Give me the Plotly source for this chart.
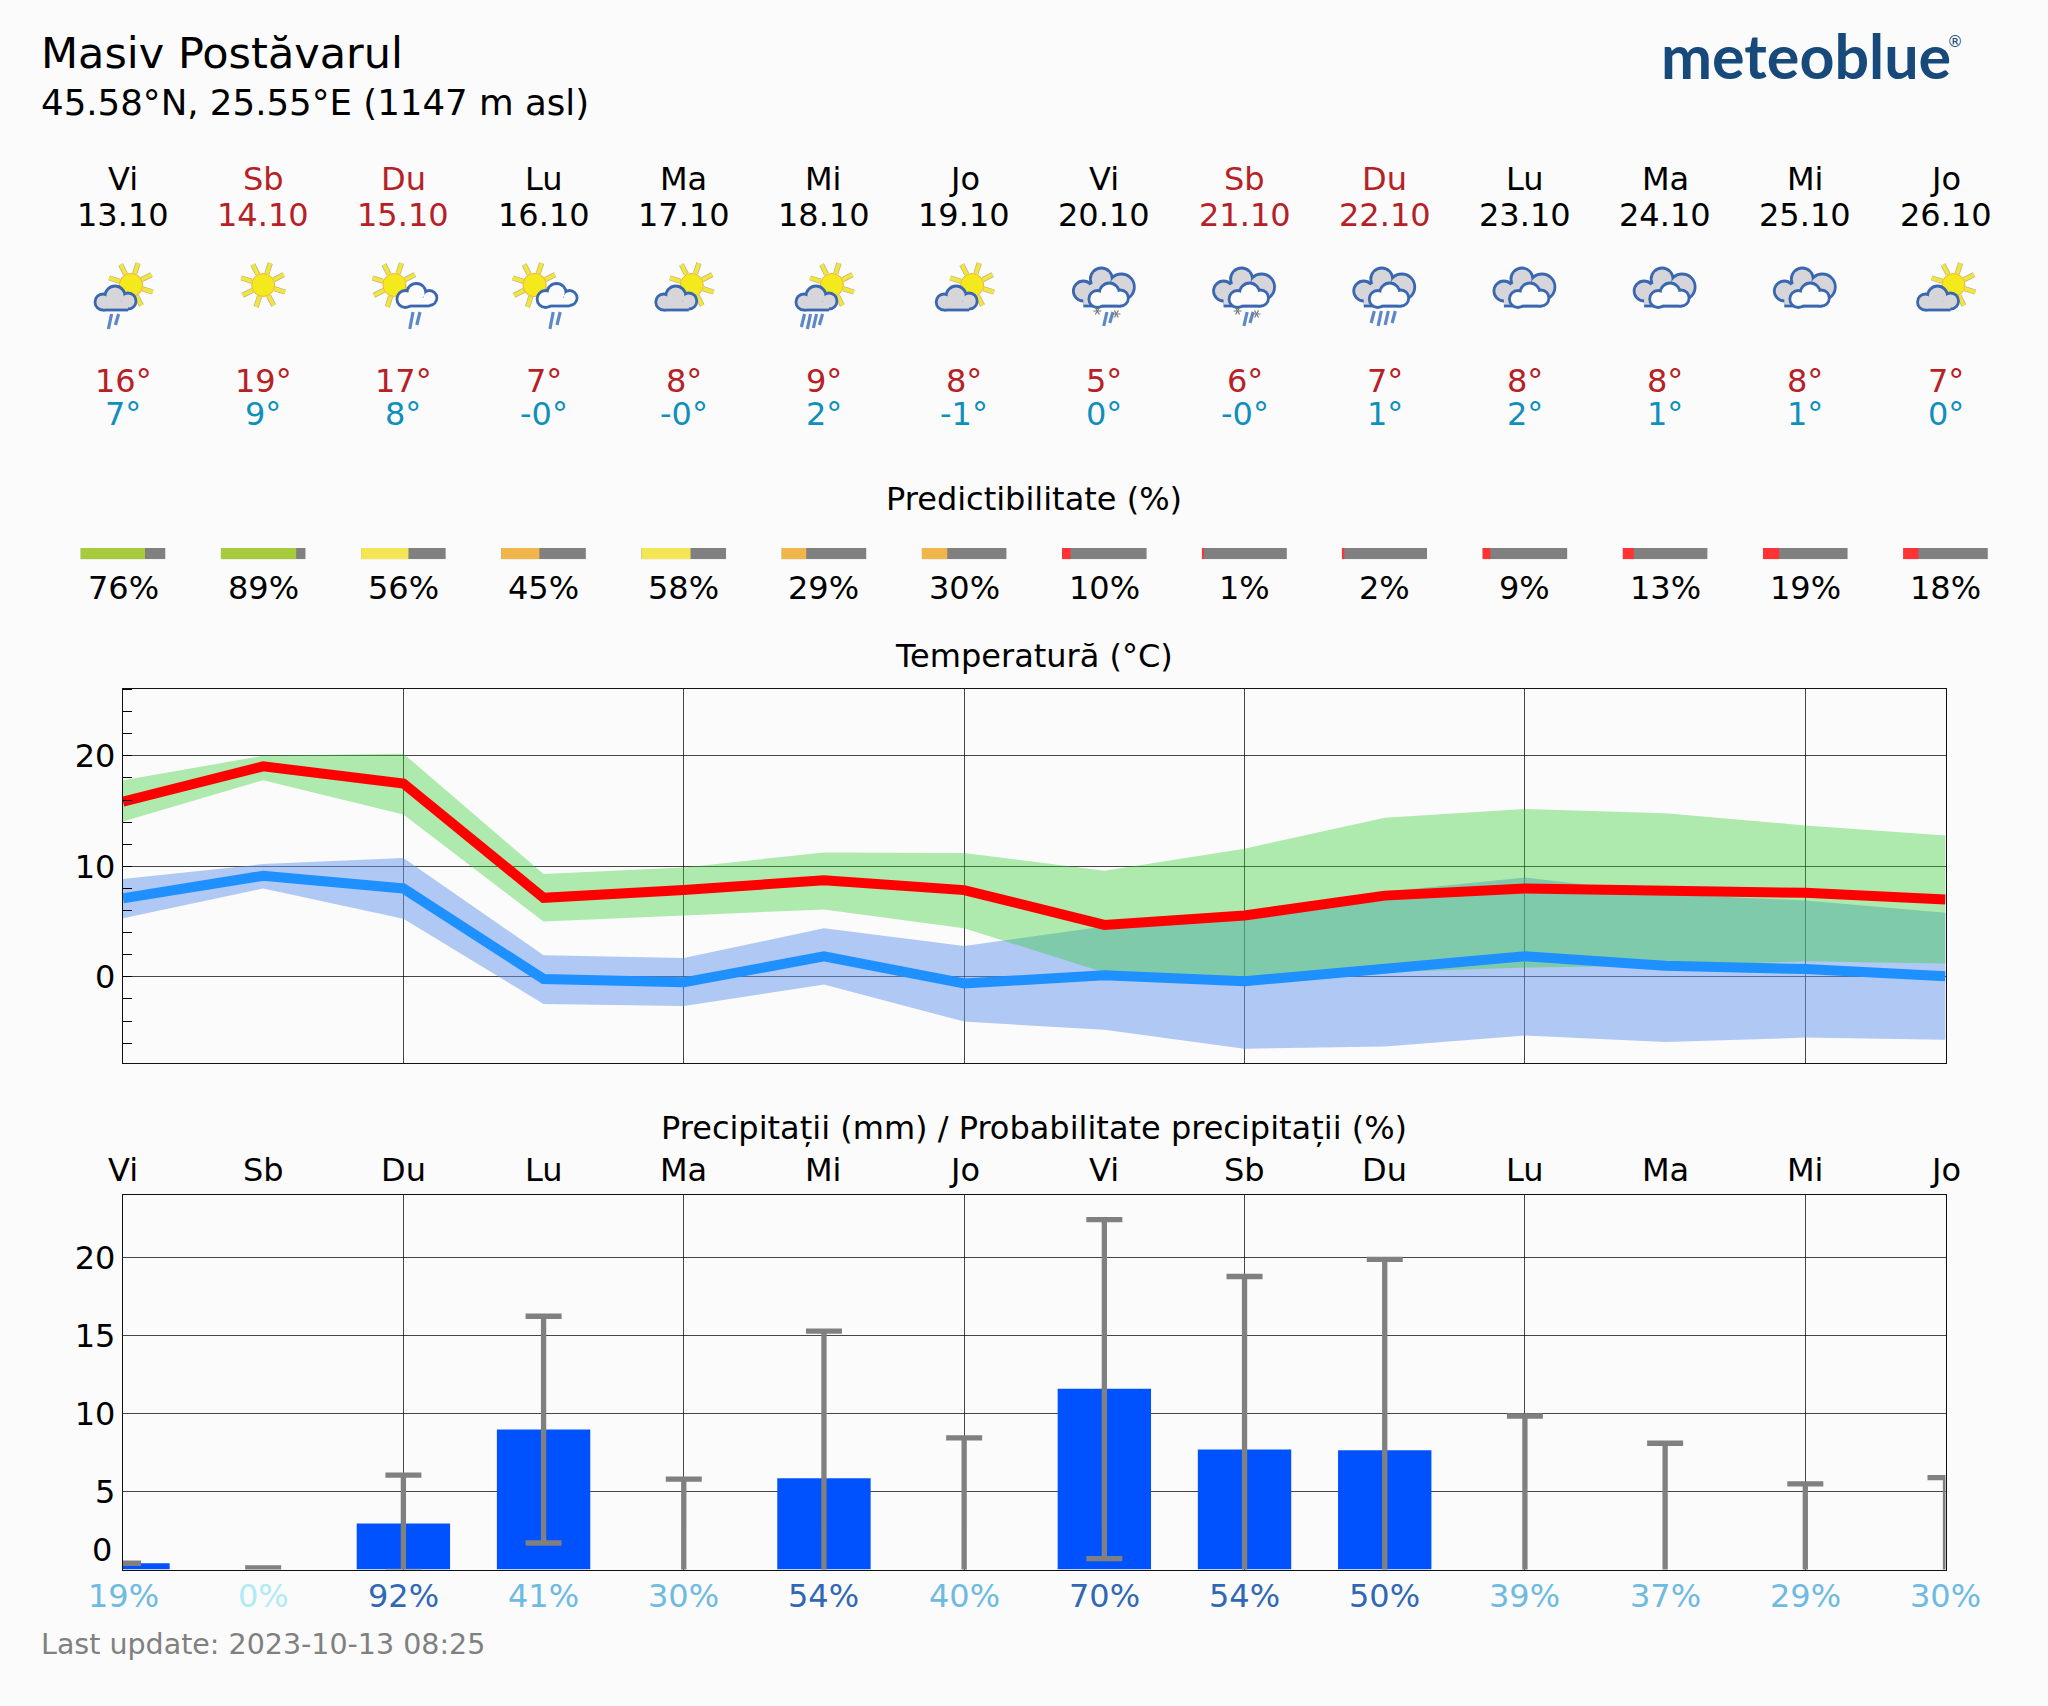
import base64
import math
import plotly.graph_objects as go

# ---------- data ----------
day_pos = list(range(14))
weekdays = ["Vi", "Sb", "Du", "Lu", "Ma", "Mi", "Jo", "Vi", "Sb", "Du", "Lu", "Ma", "Mi", "Jo"]
dates = ["13.10", "14.10", "15.10", "16.10", "17.10", "18.10", "19.10", "20.10", "21.10", "22.10", "23.10", "24.10", "25.10", "26.10"]
high_labels = ["16°", "19°", "17°", "7°", "8°", "9°", "8°", "5°", "6°", "7°", "8°", "8°", "8°", "7°"]
low_labels = ["7°", "9°", "8°", "-0°", "-0°", "2°", "-1°", "0°", "-0°", "1°", "2°", "1°", "1°", "0°"]
icons = ["sun_cloud_rain2", "sun", "sun_white_rain", "sun_white_rain", "sun_cloud", "sun_cloud_rain4", "sun_cloud",
         "over_snow", "over_snow", "over_rain", "over", "over", "over", "sun_cloud"]
predict = [76, 89, 56, 45, 58, 29, 30, 10, 1, 2, 9, 13, 19, 18]

tmax = [15.85, 19.05, 17.5, 7.15, 7.85, 8.75, 7.85, 4.7, 5.55, 7.35, 8.0, 7.9, 7.6, 7.0]
tmax_hi = [17.8, 20.0, 20.2, 9.3, 9.9, 11.25, 11.2, 9.6, 11.6, 14.4, 15.2, 14.8, 13.7, 12.8]
tmax_lo = [14.05, 17.8, 14.7, 5.0, 5.55, 6.1, 4.4, 0.4, 0.0, 0.45, 0.85, 1.0, 1.4, 1.2]
tmin = [7.1, 9.15, 8.0, -0.2, -0.5, 1.85, -0.6, 0.15, -0.4, 0.7, 1.85, 1.0, 0.7, 0.05]
tmin_hi = [8.85, 10.2, 10.75, 1.95, 1.7, 4.4, 2.8, 4.55, 5.9, 7.7, 9.0, 7.5, 6.9, 5.8]
tmin_lo = [5.3, 8.0, 5.25, -2.45, -2.65, -0.7, -4.05, -4.8, -6.5, -6.3, -5.3, -5.9, -5.5, -5.7]

precip = [0.4, 0.0, 2.95, 8.98, 0.0, 5.85, 0.0, 11.6, 7.7, 7.65, 0.0, 0.0, 0.0, 0.0]
precip_hi = [0.4, 0.1, 6.05, 16.25, 5.8, 15.3, 8.45, 22.45, 18.8, 19.9, 9.85, 8.1, 5.5, 5.9]
# None: no lower whisker cap is visible in the picture
precip_lo = [0.4, 0.1, -0.12, 1.7, None, None, None, 0.7, None, None, None, None, None, None]
prob = [19, 0, 92, 41, 30, 54, 40, 70, 54, 50, 39, 37, 29, 30]

temp_ticks = [0, 10, 20]
precip_ticks = [5, 10, 15, 20]

# ---------- styling ----------
W, H = 2048, 1706
BG = "#fbfbfb"
FONT = "DejaVu Sans"
RED_T, BLUE_T = "#b72025", "#0f8fbb"
PL, PR = 123, 1945.5
DAY = (PR - PL) / 13
TXT = 32


def yp(py):
    return 1 - py / H


def pred_color(v):
    if v >= 70:
        return "#a6cc3d"
    if v >= 50:
        return "#f4e554"
    if v >= 20:
        return "#f0b64c"
    return "#ff3333"


def prob_color(v):
    if v == 0:
        return "#aeebf5"
    if v >= 50:
        return "#3068b6"
    return "#6ebae0"


# ---------- icons (decorative pictograms) ----------
STROKE = "#3a67b0"


def sun(cx, cy):
    rays = ""
    for k in range(8):
        a = math.radians(k * 45 + 18)
        x1, y1 = cx + 12 * math.cos(a), cy + 12 * math.sin(a)
        x2, y2 = cx + 23 * math.cos(a), cy + 23 * math.sin(a)
        rays += f'<line x1="{x1:.1f}" y1="{y1:.1f}" x2="{x2:.1f}" y2="{y2:.1f}" stroke="#b9b48a" stroke-width="5.2"/>'
        rays += f'<line x1="{x1:.1f}" y1="{y1:.1f}" x2="{x2:.1f}" y2="{y2:.1f}" stroke="#f2e53c" stroke-width="3.8"/>'
    return rays + f'<circle cx="{cx}" cy="{cy}" r="11.5" fill="#f3e91c" stroke="#f2b33a" stroke-width="1"/>'


def cloud(circles, base, fill, sw=2.8):
    xs = [c[0] for c in circles]
    left, right = min(xs), max(xs)
    out = ""
    for c in circles:
        out += f'<circle cx="{c[0]}" cy="{c[1]}" r="{c[2]}" fill="{STROKE}" stroke="{STROKE}" stroke-width="{sw}"/>'
    out += f'<rect x="{left}" y="{base-8}" width="{right-left}" height="{8+sw/2}" fill="{STROKE}"/>'
    for c in circles:
        out += f'<circle cx="{c[0]}" cy="{c[1]}" r="{c[2]-sw/2}" fill="{fill}"/>'
    out += f'<rect x="{left}" y="{base-8}" width="{right-left}" height="{8-sw/2}" fill="{fill}"/>'
    return out


def rain(points):
    out = ""
    for x, y1, y2 in points:
        out += f'<line x1="{x+1.6}" y1="{y1}" x2="{x-1.6}" y2="{y2}" stroke="#5e87c8" stroke-width="3.2"/>'
    return out


def star(x, y):
    out = ""
    for dx, dy in ((4, 0), (2, 3.5), (2, -3.5)):
        out += f'<line x1="{x-dx}" y1="{y-dy}" x2="{x+dx}" y2="{y+dy}" stroke="#777" stroke-width="1.2"/>'
    return out


GRAY = "#d6d6da"
SMALL = [(-20, 17, 8), (-8, 11, 10), (5, 16, 8)]
WHITE = [(2, 14, 8.5), (13, 8, 9.5), (26, 13, 7.5)]
BACK = [(-21, 6, 10), (-3, -6, 11), (17, 2, 13), (-8, 6, 10)]
FRONT = [(-7, 14, 8.5), (5, 8, 10), (16, 13, 8)]


def icon_svg(kind):
    b = ""
    if kind == "sun":
        b = sun(0, 0)
    elif kind.startswith("sun_cloud"):
        b = sun(8, 0) + cloud(SMALL, 25, GRAY)
        if kind.endswith("rain2"):
            b += rain([(-13, 29, 44), (-6, 29, 40)])
        if kind.endswith("rain4"):
            b += rain([(-21, 29, 42), (-15, 29, 44), (-9, 29, 43), (-3, 29, 40)])
    elif kind == "sun_white_rain":
        b = sun(-9, 0) + cloud(WHITE, 21, "#fbfbfb") + rain([(8, 27, 44), (15, 27, 40)])
    elif kind.startswith("over"):
        b = cloud(BACK, 21, GRAY) + cloud(FRONT, 21, "#fbfbfb")
        if kind == "over_snow":
            b += rain([(1, 27, 41), (7, 27, 38)]) + star(-7, 26) + star(12, 29)
        if kind == "over_rain":
            b += rain([(-12, 26, 38), (-5, 26, 41), (2, 26, 40), (9, 26, 38)])
    svg = f'<svg xmlns="http://www.w3.org/2000/svg" width="100" height="100" viewBox="-50 -40 100 100">{b}</svg>'
    return "data:image/svg+xml;base64," + base64.b64encode(svg.encode()).decode()


# ---------- figure ----------
fig = go.Figure()
band_kw = dict(mode="lines", line=dict(width=0), hoverinfo="skip", showlegend=False)


def band(lo, hi, col):
    fig.add_trace(go.Scatter(x=day_pos, y=lo, **band_kw))
    fig.add_trace(go.Scatter(x=day_pos, y=hi, fill="tonexty", fillcolor=col, **band_kw))


band(tmin_lo, tmin_hi, "rgba(100,149,237,0.5)")
band(tmax_lo, tmax_hi, "rgba(50,205,50,0.38)")
fig.add_trace(go.Scatter(x=day_pos, y=tmin, mode="lines", line=dict(color="#1e90ff", width=10), showlegend=False))
fig.add_trace(go.Scatter(x=day_pos, y=tmax, mode="lines", line=dict(color="#ff0000", width=10), showlegend=False))

fig.add_trace(go.Bar(x=day_pos, y=precip, width=0.666, marker=dict(color="#0052ff", line=dict(width=0)),
                     xaxis="x2", yaxis="y2", showlegend=False))
# a whisker with no visible lower cap runs on below the axis, where the plot area clips it
floor = -0.5
fig.add_trace(go.Scatter(
    x=day_pos, y=precip, mode="markers", marker=dict(size=1, opacity=0), xaxis="x2", yaxis="y2", showlegend=False,
    error_y=dict(type="data", symmetric=False,
                 array=[h - p for h, p in zip(precip_hi, precip)],
                 arrayminus=[p - (floor if l is None else l) for p, l in zip(precip, precip_lo)],
                 color="#808080", thickness=5.3, width=18),
))

# predictability bars
pred_w = 0.603
fig.add_trace(go.Bar(orientation="h", y=[0] * 14, x=[pred_w] * 14, base=[d - pred_w / 2 for d in day_pos], width=1,
                     marker=dict(color="#808080", line=dict(width=0)), xaxis="x3", yaxis="y3", showlegend=False))
fig.add_trace(go.Bar(orientation="h", y=[0] * 14, x=[pred_w * v / 100 for v in predict],
                     base=[d - pred_w / 2 for d in day_pos], width=1,
                     marker=dict(color=[pred_color(v) for v in predict], line=dict(width=0)),
                     xaxis="x3", yaxis="y3", showlegend=False))


def note(x, py, text, size=TXT, color="black", xref="x3", xanchor="center", yanchor="middle", **kw):
    fam = kw.pop("family", FONT)
    fig.add_annotation(x=x / W if xref == "paper" else x, y=yp(py), text=text, xref=xref, yref="paper",
                       xanchor=xanchor, yanchor=yanchor, showarrow=False, borderpad=0,
                       font=dict(family=fam, size=size, color=color, **kw))


for d in day_pos:
    head = "#b72025" if weekdays[d] in ("Sb", "Du") else "black"
    note(d, 179, weekdays[d], color=head)
    note(d, 215, dates[d], color=head)
    note(d, 381, high_labels[d], color=RED_T)
    note(d, 414, low_labels[d], color=BLUE_T)
    note(d, 588, f"{predict[d]}%")
    note(d, 1170, weekdays[d])
    note(d, 1596, f"{prob[d]}%", color=prob_color(prob[d]))
    fig.add_layout_image(source=icon_svg(icons[d]), xref="x3", yref="paper", x=d, y=yp(245), sizex=100 / DAY,
                         sizey=100 / H, xanchor="center", yanchor="top", sizing="stretch", layer="above")

note(40, 53, "Masiv Postăvarul", size=43, xref="paper", xanchor="left")
note(40, 103, "45.58°N, 25.55°E (1147 m asl)", size=35.6, xref="paper", xanchor="left")
note(40, 1644, "Last update: 2023-10-13 08:25", size=28.5, color="#808080", xref="paper", xanchor="left")
note(6.5, 499, "Predictibilitate (%)")
note(6.5, 656, "Temperatură (°C)")
note(6.5, 1128, "Precipitații (mm) / Probabilitate precipitații (%)")
note(-0.07, 1550, "0", xanchor="right")
note(1806, 55, "meteoblue", size=61, color="#17497a", xref="paper", family="Lato", weight=700)
note(1955, 41, "®", size=16, color="#17497a", xref="paper")

common_x = dict(range=[0, 13], tick0=0, dtick=2, showgrid=True, gridcolor="rgba(0,0,0,0.72)", gridwidth=1,
                showline=True, mirror=True, linecolor="#111", linewidth=1.4, ticks="", showticklabels=False,
                zeroline=False, domain=[PL / W, PR / W])
common_y = dict(showgrid=True, gridcolor="rgba(0,0,0,0.72)", gridwidth=1, showline=True, mirror=True,
                linecolor="#111", linewidth=1.4, zeroline=False, ticks="",
                tickfont=dict(family=FONT, size=TXT, color="black"))

pad = 0.4
fig.update_layout(
    width=W, height=H, autosize=False, margin=dict(l=0, r=0, t=0, b=0),
    paper_bgcolor=BG, plot_bgcolor=BG, barmode="overlay", showlegend=False, hovermode=False,
    font=dict(family=FONT),
    xaxis=dict(anchor="y", **common_x),
    yaxis=dict(anchor="x", domain=[yp(1063), yp(689)], range=[-7.8, 26.05], tickvals=temp_ticks,
               minor=dict(tick0=0, dtick=2, ticks="inside", ticklen=9, tickcolor="black", tickwidth=1, showgrid=False),
               **common_y),
    xaxis2=dict(anchor="y2", **common_x),
    yaxis2=dict(anchor="x2", domain=[yp(1569.5), yp(1195)], range=[0, 24.03], tickvals=precip_ticks, **common_y),
    xaxis3=dict(anchor="y3", domain=[(PL - pad * DAY) / W, (PR + pad * DAY) / W], range=[-pad, 13 + pad],
                visible=False),
    yaxis3=dict(anchor="x3", domain=[yp(559.3), yp(548)], range=[-0.5, 0.5], visible=False),
)

fig.write_html("out.html", config={"displayModeBar": False},
               post_script="document.body.style.margin='0';document.body.style.background='%s';" % BG)
